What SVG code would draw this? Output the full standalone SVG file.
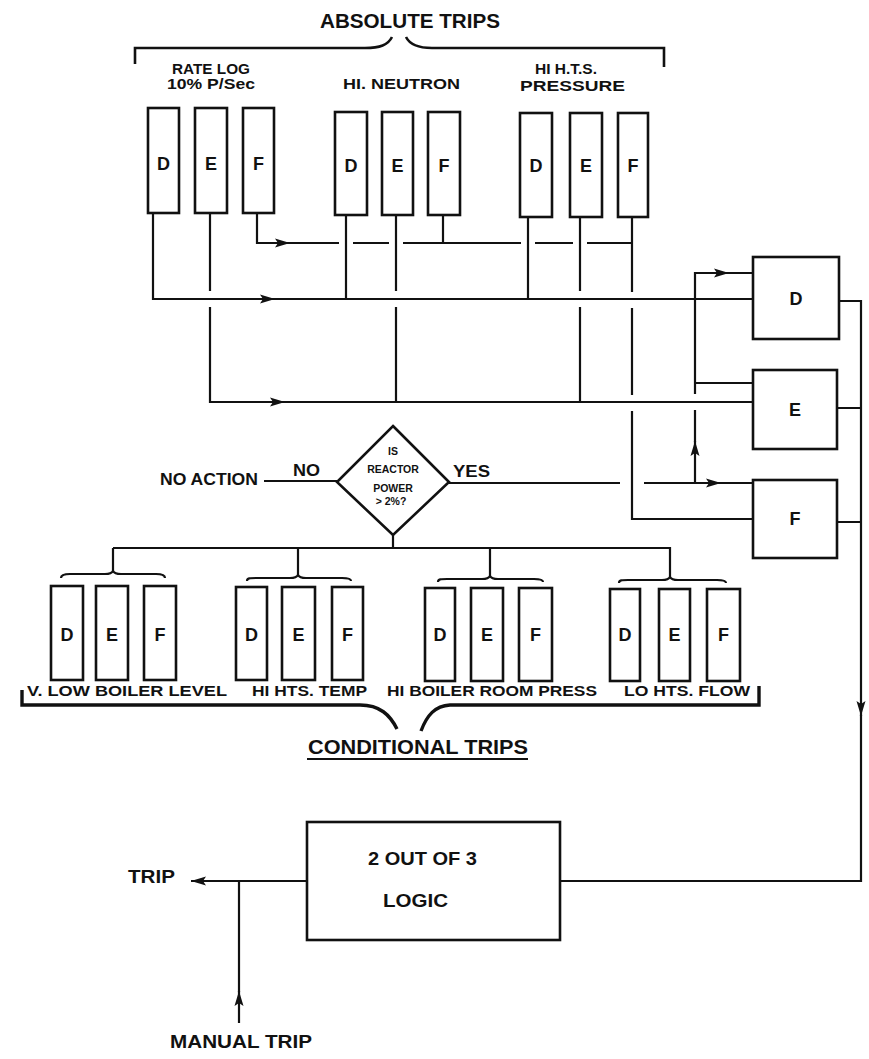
<svg xmlns="http://www.w3.org/2000/svg" width="869" height="1059" viewBox="0 0 869 1059">
<style>
.bx{fill:#fff;stroke:#111;stroke-width:2.6}
.ln{fill:none;stroke:#111;stroke-width:2.2}
.br{fill:none;stroke:#111;stroke-width:2.6}
.brk{fill:none;stroke:#111;stroke-width:3.4}
text{font-family:"Liberation Sans",Arial,sans-serif;font-weight:bold;fill:#111}
.lt{font-size:18px;text-anchor:middle}
.lb{font-size:15px}
.sm{font-size:10.5px;text-anchor:middle}
</style>
<defs>
<marker id="ah" markerUnits="userSpaceOnUse" markerWidth="16" markerHeight="10" refX="15" refY="5" orient="auto">
<path d="M0,0.5 L15,5 L0,9.5 L3,5 z" fill="#111"/>
</marker>
</defs>
<rect width="869" height="1059" fill="#fff"/>

<g id="absolute-trips-label">
<text x="320" y="28" font-size="20" textLength="180" lengthAdjust="spacingAndGlyphs">ABSOLUTE TRIPS</text>
<path class="br" d="M135,64 V48 H365 C380,48 388,45 392,37"/>
<path class="br" d="M406,37 C410,45 418,48 432,48 H664 V67"/>
</g>

<g id="rate-log">
<text class="lb" x="172" y="74" textLength="78" lengthAdjust="spacingAndGlyphs">RATE LOG</text>
<text class="lb" x="167" y="89" textLength="88" lengthAdjust="spacingAndGlyphs">10% P/Sec</text>
<rect class="bx" x="148" y="108" width="31" height="105"/><text class="lt" x="163.5" y="170">D</text>
<rect class="bx" x="195" y="108" width="32" height="105"/><text class="lt" x="211" y="170">E</text>
<rect class="bx" x="243" y="108" width="31" height="105"/><text class="lt" x="258.5" y="170">F</text>
</g>

<g id="hi-neutron">
<text class="lb" x="343" y="89" textLength="117" lengthAdjust="spacingAndGlyphs">HI. NEUTRON</text>
<rect class="bx" x="335" y="112" width="32" height="103"/><text class="lt" x="351" y="172">D</text>
<rect class="bx" x="382" y="112" width="31" height="103"/><text class="lt" x="397.5" y="172">E</text>
<rect class="bx" x="428" y="112" width="32" height="103"/><text class="lt" x="444" y="172">F</text>
</g>

<g id="hi-hts-pressure">
<text class="lb" x="535" y="74" textLength="62" lengthAdjust="spacingAndGlyphs">HI H.T.S.</text>
<text class="lb" x="520" y="91" textLength="105" lengthAdjust="spacingAndGlyphs">PRESSURE</text>
<rect class="bx" x="520" y="113" width="32" height="104"/><text class="lt" x="536" y="172">D</text>
<rect class="bx" x="570" y="113" width="32" height="104"/><text class="lt" x="586" y="172">E</text>
<rect class="bx" x="618" y="113" width="30" height="104"/><text class="lt" x="633" y="172">F</text>
</g>

<g id="channel-d">
<rect class="bx" x="753" y="257" width="86" height="82"/><text class="lt" x="796" y="305">D</text>
</g>
<g id="channel-e">
<rect class="bx" x="753" y="370" width="84" height="79"/><text class="lt" x="795" y="416">E</text>
</g>
<g id="channel-f">
<rect class="bx" x="753" y="480" width="84" height="78"/><text class="lt" x="795" y="525">F</text>
</g>

<g id="decision">
<path class="br" d="M393,426 L449,482 L393,535 L337,482 Z" fill="#fff"/>
<text class="sm" x="393" y="455">IS</text>
<text class="sm" x="393" y="473">REACTOR</text>
<text class="sm" x="393" y="492">POWER</text>
<text class="sm" x="391" y="505">&gt; 2%?</text>
<text x="160" y="485" font-size="17" textLength="98" lengthAdjust="spacingAndGlyphs">NO ACTION</text>
<text x="293" y="476" font-size="16" textLength="27" lengthAdjust="spacingAndGlyphs">NO</text>
<text x="453" y="477" font-size="16" textLength="37" lengthAdjust="spacingAndGlyphs">YES</text>
</g>

<g id="v-low-boiler-level">
<rect class="bx" x="51" y="586" width="32" height="94"/><text class="lt" x="67" y="641">D</text>
<rect class="bx" x="96" y="586" width="32" height="94"/><text class="lt" x="112" y="641">E</text>
<rect class="bx" x="144" y="586" width="32" height="94"/><text class="lt" x="160" y="641">F</text>
<text class="lb" x="27" y="696" textLength="200" lengthAdjust="spacingAndGlyphs">V. LOW BOILER LEVEL</text>
</g>
<g id="hi-hts-temp">
<rect class="bx" x="236" y="587" width="31" height="93"/><text class="lt" x="251.5" y="641">D</text>
<rect class="bx" x="282" y="587" width="33" height="93"/><text class="lt" x="298.5" y="641">E</text>
<rect class="bx" x="332" y="587" width="31" height="93"/><text class="lt" x="347.5" y="641">F</text>
<text class="lb" x="252" y="696" textLength="115" lengthAdjust="spacingAndGlyphs">HI HTS. TEMP</text>
</g>
<g id="hi-boiler-room-press">
<rect class="bx" x="425" y="588" width="30" height="93"/><text class="lt" x="440" y="641">D</text>
<rect class="bx" x="471" y="588" width="32" height="93"/><text class="lt" x="487" y="641">E</text>
<rect class="bx" x="519" y="588" width="33" height="93"/><text class="lt" x="535.5" y="641">F</text>
<text class="lb" x="387" y="696" textLength="210" lengthAdjust="spacingAndGlyphs">HI BOILER ROOM PRESS</text>
</g>
<g id="lo-hts-flow">
<rect class="bx" x="610" y="589" width="30" height="92"/><text class="lt" x="625" y="641">D</text>
<rect class="bx" x="659" y="589" width="31" height="92"/><text class="lt" x="674.5" y="641">E</text>
<rect class="bx" x="707" y="589" width="33" height="92"/><text class="lt" x="723.5" y="641">F</text>
<text class="lb" x="624" y="696" textLength="126" lengthAdjust="spacingAndGlyphs">LO HTS. FLOW</text>
</g>

<g id="conditional-trips-label">
<path class="brk" d="M22,690 V705 H360 C380,705 390,715 397,729"/>
<path class="brk" d="M421,731 C427,715 435,706 450,705 H759 V686"/>
<text x="308" y="754" font-size="20" textLength="220" lengthAdjust="spacingAndGlyphs">CONDITIONAL TRIPS</text>
<path class="ln" d="M307,759 H528"/>
</g>

<g id="logic">
<rect class="bx" x="307" y="822" width="253" height="118"/>
<text x="368" y="865" font-size="18" textLength="109" lengthAdjust="spacingAndGlyphs">2 OUT OF 3</text>
<text x="383" y="907" font-size="18" textLength="65" lengthAdjust="spacingAndGlyphs">LOGIC</text>
</g>
<g id="trip">
<text x="128" y="883" font-size="18" textLength="47" lengthAdjust="spacingAndGlyphs">TRIP</text>
</g>
<g id="manual-trip">
<text x="170" y="1048" font-size="18" textLength="142" lengthAdjust="spacingAndGlyphs">MANUAL TRIP</text>
</g>

<g id="connectors">
<!-- F line -->
<path class="ln" d="M257,213 V243 H290" marker-end="url(#ah)"/>
<path class="ln" d="M289,243 H339 M353,243 H389 M403,243 H521 M535,243 H573 M587,243 H632 M632,217 V292 M632,308 V395 M632,411 V519 H753"/>
<path class="ln" d="M443,215 V243"/>
<!-- D line -->
<path class="ln" d="M153,213 V299 H275" marker-end="url(#ah)"/>
<path class="ln" d="M274,299 H753 M346,215 V299 M528,217 V299"/>
<!-- E line -->
<path class="ln" d="M210,213 V291 M210,307 V402 H285" marker-end="url(#ah)"/>
<path class="ln" d="M284,402 H753 M396,215 V291 M396,307 V402 M580,217 V291 M580,307 V402"/>
<!-- YES line -->
<path class="ln" d="M449,483 H620 M644,483 H721" marker-end="url(#ah)"/>
<path class="ln" d="M720,483 H753"/>
<path class="ln" d="M695,483 V441" marker-end="url(#ah)"/>
<path class="ln" d="M695,442 V410 M695,394 V273 H729" marker-end="url(#ah)"/>
<path class="ln" d="M728,273 H753 M695,383 H753"/>
<!-- NO line -->
<path class="ln" d="M264,481 H337"/>
<!-- outputs -->
<path class="ln" d="M839,301 H861 V716" marker-end="url(#ah)"/>
<path class="ln" d="M861,715 V881 H560 M837,408 H861 M837,522 H861"/>
<!-- trip -->
<path class="ln" d="M307,881 H191" marker-end="url(#ah)"/>
<path class="ln" d="M239,1023 V991" marker-end="url(#ah)"/>
<path class="ln" d="M239,992 V881"/>
<!-- conditional tree -->
<path class="ln" d="M393,535 V548 M113,548 H670 V577 M113,548 V571 M298,548 V575 M490,548 V576"/>
<path class="ln" d="M61,578 C61,575 64,574 70,574 L105,574 C110,574 112,573 113,571 C114,573 116,574 121,574 L156,574 C162,574 165,575 165,578"/>
<path class="ln" d="M247,581 C247,578 250,578 256,578 L290,578 C295,578 297,577 298,575 C299,577 301,578 306,578 L342,578 C348,578 351,579 351,581"/>
<path class="ln" d="M438,582 C438,579 441,579 447,579 L482,579 C487,579 489,578 490,576 C491,578 493,579 498,579 L534,579 C540,579 543,580 543,582"/>
<path class="ln" d="M619,583 C619,580 622,580 628,580 L662,580 C667,580 669,579 670,577 C671,579 673,580 678,580 L717,580 C723,580 726,581 726,583"/>
</g>
</svg>
